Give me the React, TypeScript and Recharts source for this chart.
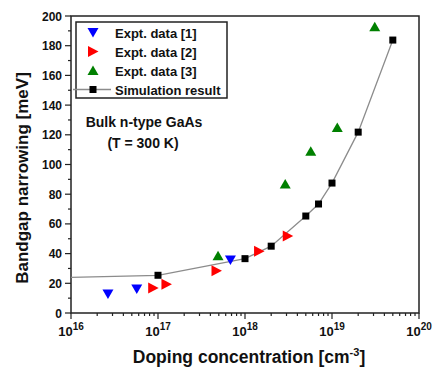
import { ComposedChart, Scatter, XAxis, YAxis, ReferenceArea } from "recharts";

// experimental data sets (doping [cm^-3], BGN [meV])
const expt1X = [2.66e16, 5.7e16, 6.8e17];
const expt1Y = [12.8, 16.2, 35.7];

const expt2X = [8.8e16, 1.25e17, 4.7e17, 1.45e18, 3.1e18];
const expt2Y = [16.8, 19.3, 28.5, 41.5, 51.8];

const expt3X = [4.9e17, 2.9e18, 5.7e18, 1.15e19, 3.1e19];
const expt3Y = [38.6, 86.9, 109, 125, 192.8];

// simulation curve (first point only carries the line, no marker)
const simX = [1e16, 1e17, 1e18, 2e18, 5e18, 7e18, 1e19, 2e19, 5e19];
const simY = [24, 25.4, 36.6, 45, 65.3, 73.4, 87.5, 121.8, 183.8];

const xMajor = [1e16, 1e17, 1e18, 1e19, 1e20];
const xMinorMult = [2, 3, 4, 5, 6, 7, 8, 9];
const yMajor = [0, 20, 40, 60, 80, 100, 120, 140, 160, 180, 200];
const yMinor = [10, 30, 50, 70, 90, 110, 130, 150, 170, 190];

const toPts = (xs: number[], ys: number[]) => xs.map((x, i) => ({ x, y: ys[i] }));

const xTicks: number[] = [];
xMajor.forEach((d, i) => {
  xTicks.push(d);
  if (i < xMajor.length - 1) xMinorMult.forEach((m) => xTicks.push(d * m));
});
const yTicks = [...yMajor, ...yMinor].sort((a, b) => a - b);

const FONT = "'Liberation Sans', Arial, sans-serif";

const XTick = (props: any) => {
  const { x, y, payload } = props;
  const v = payload.value;
  const major = xMajor.some((m) => Math.abs(m - v) / m < 1e-6);
  if (!major) return <line x1={x} x2={x} y1={y} y2={y + 3} stroke="#222" strokeWidth={1.2} />;
  const exp = Math.round(Math.log10(v));
  return (
    <g>
      <line x1={x} x2={x} y1={y} y2={y + 6} stroke="#222" strokeWidth={1.2} />
      <text x={x} y={y + 23} textAnchor="middle" fontFamily={FONT} fontWeight="bold" fontSize={13} fill="#111">
        <tspan>10</tspan>
        <tspan dy={-6} fontSize={10}>{exp}</tspan>
      </text>
    </g>
  );
};

const YTick = (props: any) => {
  const { x, y, payload } = props;
  const major = payload.value % 20 === 0;
  if (!major) return <line x1={x - 3} x2={x} y1={y} y2={y} stroke="#222" strokeWidth={1.2} />;
  return (
    <g>
      <line x1={x - 6} x2={x} y1={y} y2={y} stroke="#222" strokeWidth={1.2} />
      <text x={x - 9} y={y + 4.5} textAnchor="end" fontFamily={FONT} fontWeight="bold" fontSize={12} fill="#111">
        {payload.value}
      </text>
    </g>
  );
};

const DownTri = ({ cx, cy }: any) => (
  <polygon points={`${cx - 5.5},${cy - 4.5} ${cx + 5.5},${cy - 4.5} ${cx},${cy + 5}`} fill="#0000ff" />
);
const RightTri = ({ cx, cy }: any) => (
  <polygon points={`${cx - 5},${cy - 5.5} ${cx - 5},${cy + 5.5} ${cx + 5.5},${cy}`} fill="#ff0000" />
);
const UpTri = ({ cx, cy }: any) => (
  <polygon points={`${cx - 5.5},${cy + 4.5} ${cx + 5.5},${cy + 4.5} ${cx},${cy - 5}`} fill="#008000" />
);
const Square = (props: any) => {
  const { cx, cy, payload } = props;
  if (payload.x === simX[0]) return <g />;
  return <rect x={cx - 3.5} y={cy - 3.5} width={7} height={7} fill="#000" />;
};

const legendRows = [
  { label: "Expt. data [1]", shape: DownTri },
  { label: "Expt. data [2]", shape: RightTri },
  { label: "Expt. data [3]", shape: UpTri },
];

export default function App() {
  return (
    <div style={{ position: "absolute", left: 0, top: 0, width: 433, height: 374, background: "#fff" }}>
      <ComposedChart width={433} height={374} margin={{ top: 16, right: 14, bottom: 60, left: 70 }}>
        <XAxis
          dataKey="x"
          type="number"
          scale="log"
          domain={[1e16, 1e20]}
          ticks={xTicks}
          interval={0}
          height={1}
          tickSize={0}
          tickMargin={0}
          tick={(p: any) => <XTick {...p} />}
          axisLine={false}
          allowDataOverflow
        />
        <YAxis
          dataKey="y"
          type="number"
          domain={[0, 200]}
          ticks={yTicks}
          interval={0}
          width={1}
          tickSize={0}
          tickMargin={0}
          tick={(p: any) => <YTick {...p} />}
          axisLine={false}
        />
        <ReferenceArea x1={1e16} x2={1e20} y1={0} y2={200} fill="none" stroke="#222" strokeWidth={1.5} />
        <Scatter
          data={toPts(simX, simY)}
          line={{ stroke: "#8c8c8c", strokeWidth: 1.3 }}
          lineType="joint"
          shape={<Square />}
          isAnimationActive={false}
        />
        <Scatter data={toPts(expt1X, expt1Y)} shape={<DownTri />} isAnimationActive={false} />
        <Scatter data={toPts(expt2X, expt2Y)} shape={<RightTri />} isAnimationActive={false} />
        <Scatter data={toPts(expt3X, expt3Y)} shape={<UpTri />} isAnimationActive={false} />

        {/* axis titles */}
        <text x={249} y={363} textAnchor="middle" fontFamily={FONT} fontWeight="bold" fontSize={17.5} fill="#111">
          Doping concentration [cm
          <tspan dy={-7} fontSize={11}>-3</tspan>
          <tspan dy={7}>]</tspan>
        </text>
        <text
          x={0}
          y={0}
          transform="translate(28,178) rotate(-90)"
          textAnchor="middle"
          fontFamily={FONT}
          fontWeight="bold"
          fontSize={17}
          fill="#111"
        >
          Bandgap narrowing [meV]
        </text>

        {/* annotation */}
        <text x={144} y={127} textAnchor="middle" fontFamily={FONT} fontWeight="bold" fontSize={14} fill="#111">
          Bulk n-type GaAs
        </text>
        <text x={143} y={148} textAnchor="middle" fontFamily={FONT} fontWeight="bold" fontSize={14} fill="#111">
          (T = 300 K)
        </text>

        {/* legend */}
        <rect x={76} y={22} width={151} height={76} fill="#fff" stroke="#222" strokeWidth={1.5} />
        {legendRows.map((r, i) => {
          const Shape = r.shape;
          const cy = 32.5 + i * 19;
          return (
            <g key={r.label}>
              <Shape cx={93} cy={cy} />
              <text x={115} y={cy + 5} fontFamily={FONT} fontWeight="bold" fontSize={13} fill="#111">
                {r.label}
              </text>
            </g>
          );
        })}
        <line x1={73} x2={111} y1={89.5} y2={89.5} stroke="#8c8c8c" strokeWidth={1.3} />
        <rect x={89.5} y={86} width={7} height={7} fill="#000" />
        <text x={115} y={94.5} fontFamily={FONT} fontWeight="bold" fontSize={13} fill="#111">
          Simulation result
        </text>
      </ComposedChart>
    </div>
  );
}
